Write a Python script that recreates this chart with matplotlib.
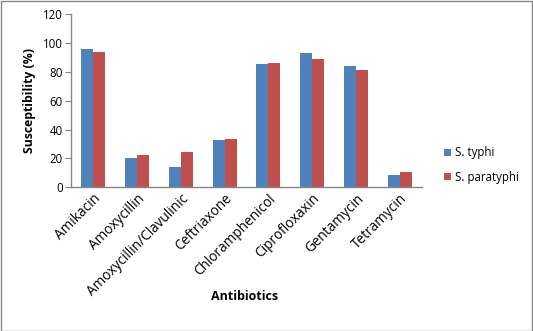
import matplotlib
matplotlib.use("Agg")
import matplotlib.pyplot as plt
import numpy as np
from matplotlib.patches import Rectangle

categories = ["Amikacin", "Amoxycillin", "Amoxycillin/Clavulinic", "Ceftriaxone",
              "Chloramphenicol", "Ciprofloxaxin", "Gentamycin", "Tetramycin"]
s_typhi = [96, 20, 14, 33, 85.5, 93, 84, 8.5]
s_paratyphi = [94, 22.5, 24.5, 33.5, 86, 89, 81.5, 10.5]
series_names = ["S. typhi", "S. paratyphi"]
yticks = [0, 20, 40, 60, 80, 100, 120]

plt.rcParams['font.family'] = ['Open Sans', 'DejaVu Sans']

W, H = 533, 331
fig = plt.figure(figsize=(W/100, H/100), dpi=100)
ax = fig.add_axes([71.3/W, 1 - 187.3/H, (421.7-71.3)/W, (187.3-14.3)/H])

x = np.arange(len(categories))
bw = 0.275
b1 = ax.bar(x - bw/2, s_typhi, bw, color="#4F81BD", label=series_names[0])
b2 = ax.bar(x + bw/2, s_paratyphi, bw, color="#C0504D", label=series_names[1])

ax.set_xlim(-0.5, len(categories) - 0.5)
ax.set_ylim(0, 120)
ax.set_yticks(yticks)
ax.tick_params(axis='y', direction='out', length=4, color='#868686', labelsize=8.3, pad=2)
ax.tick_params(axis='x', length=0, labelsize=9.8, pad=3)
ax.set_xticks(x)
ax.set_xticklabels(categories, rotation=45, ha='right', rotation_mode='anchor')
for s in ['top', 'right']:
    ax.spines[s].set_visible(False)
for s in ['left', 'bottom']:
    ax.spines[s].set_color('#868686')
    ax.spines[s].set_linewidth(1)

ax.set_ylabel("Susceptibility (%)", fontsize=8.8, fontweight='bold', labelpad=5)
fig.text(245/W, 1 - 297/H, "Antibiotics", fontsize=9, fontweight='bold', ha='center', va='center')

leg = fig.legend(handles=[b1, b2], labels=series_names, loc='center left',
                 bbox_to_anchor=(434/W, 1 - 165/H), frameon=False, fontsize=8.3,
                 handlelength=0.6, handleheight=0.6, handletextpad=0.35, labelspacing=1.0)

fig.patches.append(Rectangle((0.5/W, 0.5/H), 1 - 1.5/W, 1 - 1.5/H, transform=fig.transFigure,
                             fill=False, edgecolor='#868686', linewidth=1))

fig.savefig("out.png", dpi=100)
